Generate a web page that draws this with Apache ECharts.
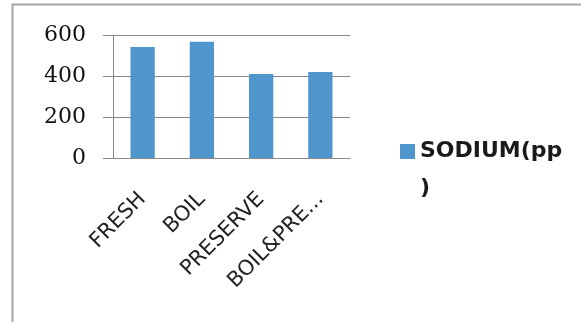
<!DOCTYPE html>
<html>
<head>
<meta charset="utf-8">
<script src="https://cdn.jsdelivr.net/npm/echarts@6/dist/echarts.min.js"></script>
<style>
  html, body { margin: 0; padding: 0; background: #fff; }
  #chart { width: 581px; height: 322px; }
</style>
</head>
<body>
<div id="chart"></div>
<script>
// Sodium content by sample treatment
var categories = ['FRESH', 'BOIL', 'PRESERVE', 'BOIL&PRESERVE'];
var sodium = [541, 567, 410, 420];
var seriesName = 'SODIUM(ppm)';
var yTicks = [0, 200, 400, 600];

var barColor = '#4f96cd';

// Legend marker: a square sitting level with the first line of the wrapped label
var markerSvg = '<svg xmlns="http://www.w3.org/2000/svg" width="15" height="52" viewBox="0 0 15 52">' +
  '<rect x="0" y="0" width="15" height="15" fill="' + barColor + '"/></svg>';
var markerIcon = 'image://data:image/svg+xml;charset=utf-8,' + encodeURIComponent(markerSvg);

var chart = echarts.init(document.getElementById('chart'));
chart.setOption({
  animation: false,
  backgroundColor: '#fff',
  graphic: [{
    type: 'rect',
    shape: { x: 12.5, y: 4.5, width: 700, height: 400 },
    style: { fill: 'none', stroke: '#a6a6a6', lineWidth: 2 },
    silent: true
  }],
  grid: { left: 113, right: 231, top: 35, bottom: 164 },
  legend: {
    left: 395, top: 128,
    orient: 'vertical',
    itemWidth: 15, itemHeight: 52,
    icon: markerIcon,
    itemGap: 0,
    formatter: function (name) {
      // the label wraps inside the narrow legend box and loses its last letter
      return name.slice(0, 9) + '\n' + name.slice(10);
    },
    textStyle: {
      fontFamily: 'DejaVu Sans', fontWeight: 'bold', fontSize: 22,
      color: '#1a1a1a', lineHeight: 37
    }
  },
  xAxis: {
    type: 'category',
    data: categories,
    axisLine: { lineStyle: { color: '#888', width: 1 } },
    axisTick: { length: 8, lineStyle: { color: '#888' } },
    axisLabel: {
      rotate: 45,
      margin: 38,
      fontFamily: 'DejaVu Sans', fontSize: 21, color: '#222',
      formatter: function (v) { return v.length > 10 ? v.slice(0, 8) + '...' : v; }
    }
  },
  yAxis: {
    type: 'value',
    min: 0, max: yTicks[yTicks.length - 1], interval: 200,
    axisLine: { show: true, lineStyle: { color: '#888' } },
    axisTick: { show: true, length: 10, lineStyle: { color: '#888' } },
    splitLine: { lineStyle: { color: '#888' } },
    axisLabel: {
      margin: 27,
      fontFamily: 'DejaVu Serif', fontSize: 22, color: '#111'
    }
  },
  series: [{
    name: seriesName,
    type: 'bar',
    data: sodium,
    barWidth: '41%',
    itemStyle: { color: barColor }
  }]
});
</script>
</body>
</html>
